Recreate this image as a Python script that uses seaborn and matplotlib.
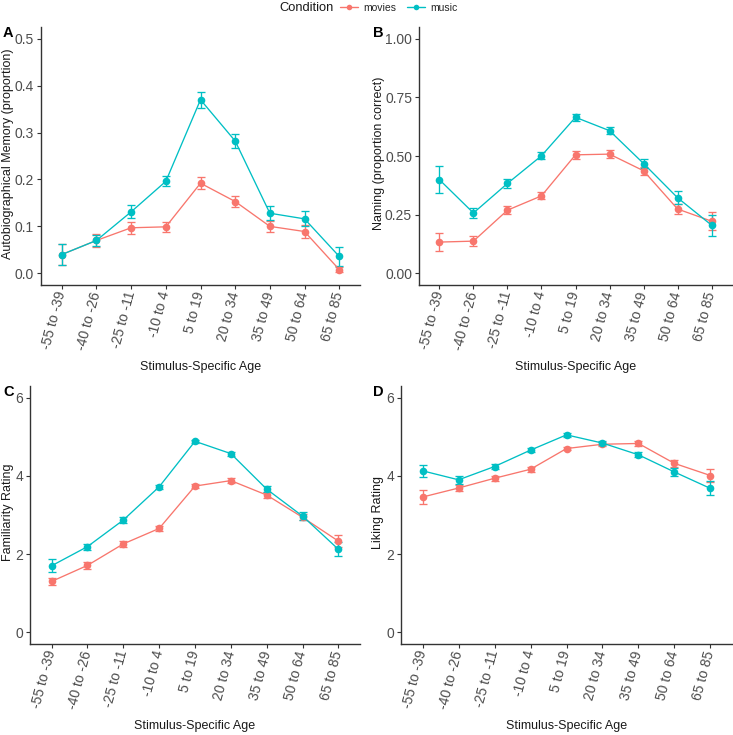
import numpy as np
import pandas as pd
import seaborn as sns
import matplotlib
matplotlib.use("Agg")
import matplotlib.pyplot as plt
from matplotlib.lines import Line2D

sns.set_theme(style="white")
plt.rcParams['font.family'] = ['Liberation Sans', 'DejaVu Sans']

ages = ["-55 to -39", "-40 to -26", "-25 to -11", "-10 to 4", "5 to 19",
        "20 to 34", "35 to 49", "50 to 64", "65 to 85"]
conditions = ["movies", "music"]
colors = {"movies": "#F8766D", "music": "#00BFC4"}

# Panel A: Autobiographical memory
a_music = [0.040, 0.070, 0.131, 0.196, 0.370, 0.282, 0.128, 0.116, 0.036]
a_music_se = [0.022, 0.012, 0.014, 0.011, 0.017, 0.014, 0.015, 0.016, 0.020]
a_movies = [0.040, 0.070, 0.097, 0.099, 0.192, 0.153, 0.100, 0.089, 0.008]
a_movies_se = [0.022, 0.013, 0.013, 0.011, 0.013, 0.012, 0.011, 0.014, 0.006]

# Panel B: Naming
b_music = [0.399, 0.257, 0.383, 0.501, 0.665, 0.608, 0.468, 0.322, 0.205]
b_music_se = [0.057, 0.020, 0.018, 0.015, 0.014, 0.015, 0.020, 0.027, 0.045]
b_movies = [0.133, 0.137, 0.269, 0.330, 0.505, 0.508, 0.437, 0.274, 0.222]
b_movies_se = [0.040, 0.020, 0.018, 0.015, 0.016, 0.016, 0.018, 0.022, 0.038]

# Panel C: Familiarity
c_music = [1.70, 2.19, 2.87, 3.72, 4.885, 4.57, 3.66, 2.97, 2.12]
c_music_se = [0.166, 0.08, 0.07, 0.06, 0.04, 0.05, 0.07, 0.10, 0.18]
c_movies = [1.30, 1.71, 2.26, 2.655, 3.74, 3.88, 3.51, 2.94, 2.33]
c_movies_se = [0.09, 0.08, 0.07, 0.06, 0.06, 0.06, 0.07, 0.08, 0.15]

# Panel D: Liking
d_music = [4.13, 3.90, 4.24, 4.66, 5.05, 4.84, 4.54, 4.10, 3.68]
d_music_se = [0.15, 0.10, 0.07, 0.05, 0.05, 0.05, 0.06, 0.09, 0.18]
d_movies = [3.46, 3.69, 3.94, 4.17, 4.70, 4.81, 4.83, 4.32, 4.01]
d_movies_se = [0.18, 0.08, 0.06, 0.06, 0.05, 0.05, 0.07, 0.08, 0.16]

panels = [
    dict(label="A", ylabel="Autobiographical Memory (proportion)",
         music=a_music, music_se=a_music_se, movies=a_movies, movies_se=a_movies_se,
         yticks=[0.0, 0.1, 0.2, 0.3, 0.4, 0.5], fmt="{:.1f}", ylim=(-0.025, 0.525),
         rect=[41, 27, 360, 285], ylab_px=8, lab_px=(3, 33)),
    dict(label="B", ylabel="Naming (proportion correct)",
         music=b_music, music_se=b_music_se, movies=b_movies, movies_se=b_movies_se,
         yticks=[0.0, 0.25, 0.5, 0.75, 1.0], fmt="{:.2f}", ylim=(-0.05, 1.05),
         rect=[419, 27, 732, 285], ylab_px=379, lab_px=(373, 33)),
    dict(label="C", ylabel="Familiarity Rating",
         music=c_music, music_se=c_music_se, movies=c_movies, movies_se=c_movies_se,
         yticks=[0, 2, 4, 6], fmt="{:.0f}", ylim=(-0.3, 6.3),
         rect=[30, 386, 360, 644], ylab_px=8, lab_px=(3, 392)),
    dict(label="D", ylabel="Liking Rating",
         music=d_music, music_se=d_music_se, movies=d_movies, movies_se=d_movies_se,
         yticks=[0, 2, 4, 6], fmt="{:.0f}", ylim=(-0.3, 6.3),
         rect=[401, 386, 732, 644], ylab_px=378, lab_px=(373, 392)),
]

W, H = 733, 735
fig = plt.figure(figsize=(W / 100, H / 100), dpi=100)

for p in panels:
    l, t, r, b = p["rect"]
    ax = fig.add_axes([l / W, 1 - b / H, (r - l) / W, (b - t) / H])
    rows = []
    for cond in conditions:
        for age, v, s in zip(ages, p[cond], p[cond + "_se"]):
            rows.append(dict(age=age, value=v, se=s, Condition=cond))
    df = pd.DataFrame(rows)
    df["age"] = pd.Categorical(df["age"], categories=ages, ordered=True)
    sns.lineplot(data=df, x="age", y="value", hue="Condition", hue_order=conditions,
                 palette=colors, marker="o", markersize=5.5, markeredgewidth=0,
                 linewidth=0.95, errorbar=None, legend=False, ax=ax, sort=False)
    for cond in conditions:
        sub = df[df["Condition"] == cond]
        ax.errorbar(np.arange(len(ages)), sub["value"], yerr=sub["se"], fmt="none",
                    ecolor=colors[cond], elinewidth=0.95, capsize=3.2, capthick=0.95,
                    zorder=1.5)
    ax.set_xlim(-0.6, len(ages) - 1 + 0.6)
    ax.set_ylim(*p["ylim"])
    ax.set_yticks(p["yticks"])
    ax.set_yticklabels([p["fmt"].format(v) for v in p["yticks"]])
    ax.set_xticks(np.arange(len(ages)))
    ax.set_xticklabels(ages, rotation=75, ha="right", va="center", rotation_mode="anchor")
    for s in ["top", "right"]:
        ax.spines[s].set_visible(False)
    for s in ["left", "bottom"]:
        ax.spines[s].set_color("#333333")
        ax.spines[s].set_linewidth(1.0)
    ax.tick_params(axis="both", which="both", length=3, width=0.8, color="#333333",
                   labelcolor="#4D4D4D", labelsize=10, bottom=True, left=True, pad=2)
    ax.set_xlabel("Stimulus-Specific Age", fontsize=9, color="#1a1a1a", va="center")
    ax.set_ylabel(p["ylabel"], fontsize=9, color="#1a1a1a", va="center")
    ax.yaxis.set_label_coords((p["ylab_px"] - l) / (r - l), 0.51)
    ax.xaxis.set_label_coords(0.5, (b - (b + 82)) / (b - t))
    ax.grid(False)
    fig.text(p["lab_px"][0] / W, 1 - p["lab_px"][1] / H, p["label"], fontsize=10.5,
             fontweight="bold", ha="left", va="center", color="black")

fig.text(307 / W, 1 - 8 / H, "Condition", fontsize=9.3, ha="center", va="center",
         color="#1a1a1a")
handles = [Line2D([0], [0], color=colors[c], marker="o", markersize=4, linewidth=1.0,
                  markeredgewidth=0) for c in conditions]
fig.legend(handles, conditions, loc="center left", bbox_to_anchor=(340 / W, 1 - 8 / H),
           ncol=2, frameon=False, fontsize=7.5, handlelength=1.75, handletextpad=0.5,
           columnspacing=1.0, borderaxespad=0, borderpad=0)

fig.savefig("out.png", dpi=100, facecolor="white")
